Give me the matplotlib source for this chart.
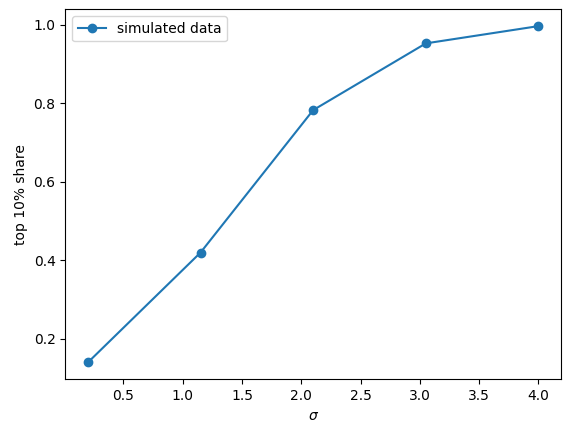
#top 10% share as a function of sigma, simulated data
from matplotlib import pyplot as plt

sigma = [0.2, 1.15, 2.1, 3.05, 4.0]
top_share = [0.139, 0.419, 0.782, 0.952, 0.996]

fig = plt.figure(figsize=(5.71, 4.32), dpi=100)
fig.subplots_adjust(left=0.1144, right=0.9825, top=0.9785, bottom=0.122)
ax = fig.add_subplot(111)

ax.plot(sigma, top_share, marker="o", label="simulated data")
ax.set_xlabel(r"$\sigma$")
ax.set_ylabel("top 10% share")
ax.legend(loc="upper left")

fig.savefig("out.png", dpi=100)
